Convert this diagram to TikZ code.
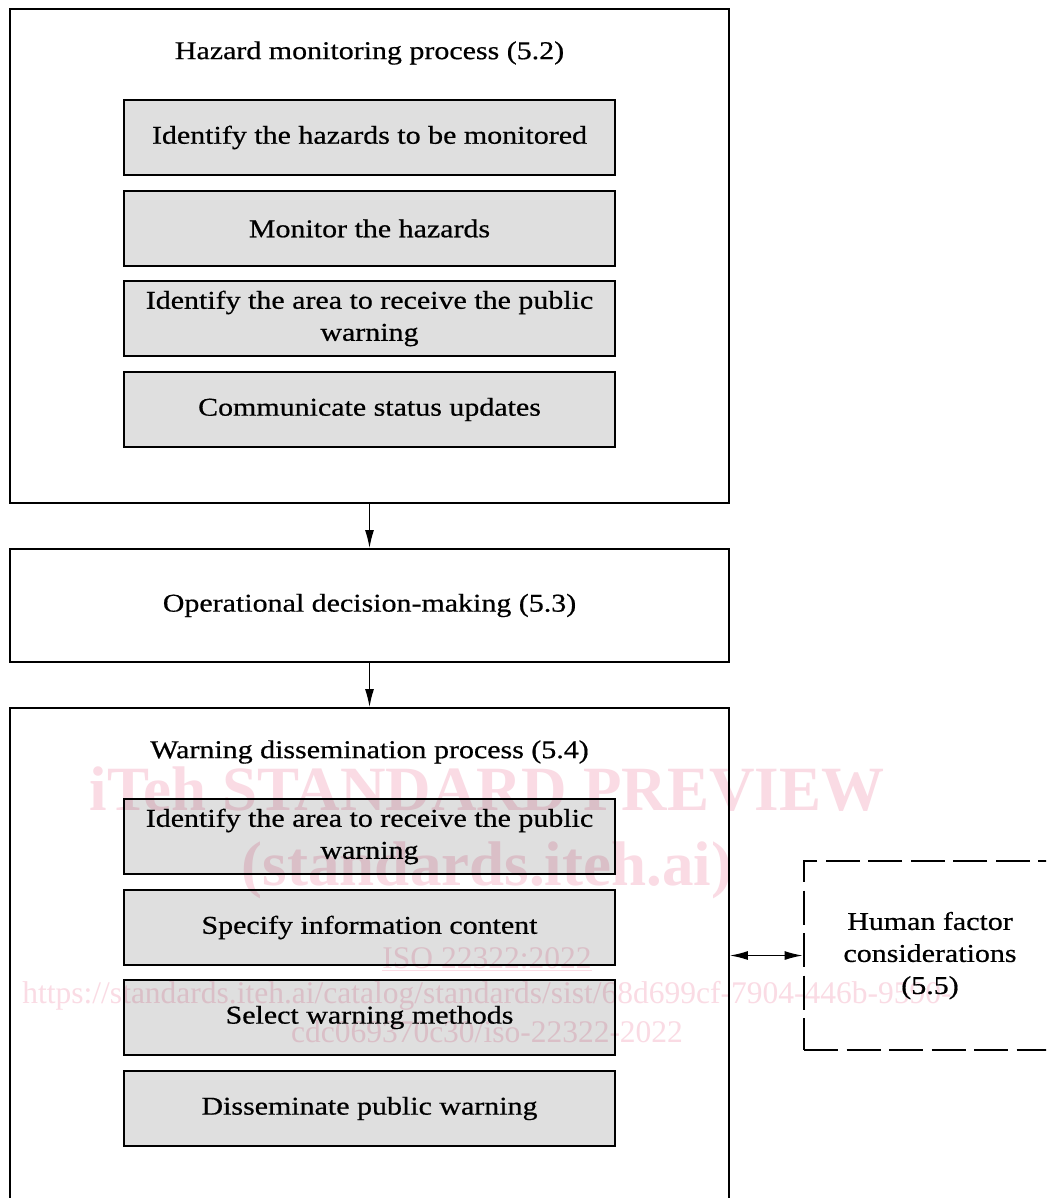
\documentclass[tikz,border=0pt]{standalone}
\usepackage{fontspec}
\setmainfont{Liberation Serif}[FakeStretch=1.17, FakeBold=0.6]
\newfontfamily\wmfont{Liberation Serif}
\usetikzlibrary{arrows.meta}

\definecolor{wmpink}{RGB}{250,219,228}

\begin{document}
\begin{tikzpicture}
    [ x=1pt, y=-1pt,
      font={\fontsize{25.6}{32}\selectfont},
      process/.style={draw, line width=1.8pt, minimum width=719pt},
      heading/.style={inner sep=0pt},
      task/.style={draw, fill=gray!25, line width=2.5pt, minimum width=491pt,
                   minimum height=75pt, inner sep=2pt, align=center},
      factor/.style={draw, line width=2.8pt, dash pattern=on 34pt off 8.5pt,
                     minimum width=252pt, minimum height=189pt, align=center},
      flow/.style={line width=1.3pt, -{Latex[length=18pt,width=9pt]}},
      link/.style={line width=1.3pt,
                   {Latex[length=18pt,width=9pt]}-{Latex[length=18pt,width=9pt]}},
      watermark/.style={text=wmpink, inner sep=0pt, anchor=base,
                        font={\wmfont\fontsize{31.5}{31.5}\selectfont}},
      bigmark/.style={watermark, font={\wmfont\bfseries\fontsize{63}{63}\selectfont}}
    ]

    \path[use as bounding box, fill=white] (0, 0) rectangle (1046, 1198);
    \clip (0, 0) rectangle (1046, 1198);

    % Hazard monitoring process
    \node[process, minimum height=494pt] (hazard) at (369.5, 256) {};
    \node[heading] (hazardtitle) at (369.5, 53) {Hazard monitoring process (5.2)};
    \foreach \name/\y/\txt in {hzident/137.5/{Identify the hazards to be monitored},
                               hzmonitor/228.5/{Monitor the hazards},
                               hzarea/318.5/{Identify the area to receive the public\\warning},
                               hzstatus/409.5/{Communicate status updates}} {
        \node[task] (\name) at (369.5, \y) {\txt};
    }

    % Operational decision-making
    \node[process, minimum height=113pt] (decision) at (369.5, 605.5)
        {Operational decision-making (5.3)};

    % Warning dissemination process
    \node[process, minimum height=542pt] (warning) at (369.5, 979) {};
    \node[heading] (warningtitle) at (369.5, 752) {Warning dissemination process (5.4)};
    \foreach \name/\y/\txt in {wnarea/836.5/{Identify the area to receive the public\\warning},
                               wncontent/927.5/{Specify information content},
                               wnmethods/1017.5/{Select warning methods},
                               wnissue/1108.5/{Disseminate public warning}} {
        \node[task] (\name) at (369.5, \y) {\txt};
    }

    % Human factor considerations
    \node[factor] (human) at (930, 955.5)
        {\raisebox{-4pt}{\begin{tabular}{@{}c@{}}Human factor\\considerations\\(5.5)\end{tabular}}};

    \draw[flow] (hazard.south) -- (decision.north);
    \draw[flow] (decision.south) -- (warning.north);
    \draw[link] (human.west -| warning.east) -- (human.west);

    % Watermark
    \begin{scope}[blend mode=multiply]
        \node[bigmark] (wmtitle) at (487, 810) {iTeh STANDARD PREVIEW};
        \node[bigmark] (wmsite) at (487, 885) {(standards.iteh.ai)};
        \node[watermark] (wmiso) at (487, 968) {\underline{ISO 22322:2022}};
        \node[watermark] (wmurl) at (487, 1003)
            {https://standards.iteh.ai/catalog/standards/sist/68d699cf-7904-446b-9590-};
        \node[watermark] (wmdoc) at (487, 1042) {cdc069370c30/iso-22322-2022};
    \end{scope}

\end{tikzpicture}
\end{document}
